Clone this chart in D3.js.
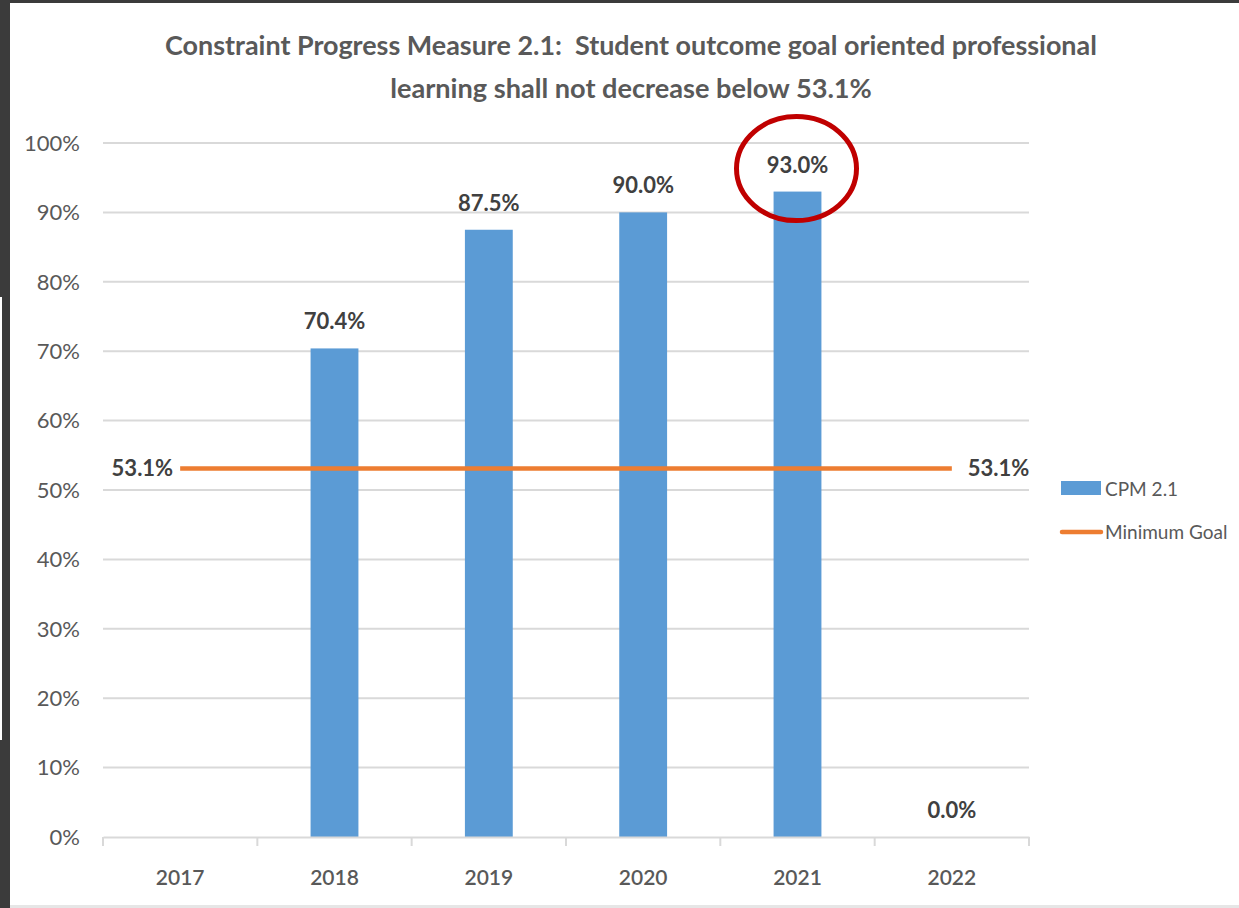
<!DOCTYPE html>
<html><head><meta charset="utf-8">
<script src="https://cdn.jsdelivr.net/npm/d3@7"></script>
<style>html,body{margin:0;padding:0;background:#fff;overflow:hidden}svg{display:block}</style>
</head><body>
<svg id="c" width="1239" height="908"></svg>
<script>
const titleLines = ["Constraint Progress Measure 2.1:  Student outcome goal oriented professional", "learning shall not decrease below 53.1%"];
const years = ["2017","2018","2019","2020","2021","2022"];
const cpmValues = [null, 0.704, 0.875, 0.900, 0.930, 0.0];
const minGoal = [0.531, 0.531, 0.531, 0.531, 0.531, 0.531];
const yTicks = [0,0.1,0.2,0.3,0.4,0.5,0.6,0.7,0.8,0.9,1.0];
const legendLabels = ["CPM 2.1", "Minimum Goal"];
const highlightYear = "2021";

const svg = d3.select("#c");
const FONT = "Lato, 'Liberation Sans', sans-serif";
// frame
svg.append("rect").attr("x",0).attr("y",0).attr("width",1239).attr("height",908).attr("fill","#fff");
svg.append("rect").attr("x",0).attr("y",0).attr("width",10).attr("height",908).attr("fill","#3b3b3b");
svg.append("rect").attr("x",0).attr("y",0).attr("width",1239).attr("height",3).attr("fill","#3b3b3b");
svg.append("rect").attr("x",0).attr("y",297).attr("width",2).attr("height",443).attr("fill","#fff");
svg.append("rect").attr("x",10).attr("y",905).attr("width",1229).attr("height",3).attr("fill","#e6e6e6");

const x = d3.scaleBand().domain(years).range([103,1029]).paddingInner(0.69).paddingOuter(0.345);
const xb = d3.scaleBand().domain(years).range([103,1029]);
const y = d3.scaleLinear().domain([0,1]).range([837,143]);

// gridlines
svg.append("g").selectAll("line").data(yTicks.slice(1)).join("line")
  .attr("x1",103).attr("x2",1029).attr("y1",d=>y(d)).attr("y2",d=>y(d))
  .attr("stroke","#d9d9d9").attr("stroke-width",2);

// y labels
svg.append("g").selectAll("text").data(yTicks).join("text")
  .attr("x",80).attr("y",d=>y(d)).attr("dy","0.35em").attr("text-anchor","end")
  .attr("font-family",FONT).attr("font-size",22).attr("fill","#595959")
  .text(d=>d3.format(".0%")(d));

// bars
const barData = years.map((yr,i)=>({yr, v:cpmValues[i]})).filter(d=>d.v!==null);
svg.append("g").selectAll("rect").data(barData).join("rect")
  .attr("x",d=>x(d.yr)).attr("width",x.bandwidth())
  .attr("y",d=>y(d.v)).attr("height",d=>y(0)-y(d.v)).attr("fill","#5B9BD5");

// x axis
const xAxisG = svg.append("g").attr("transform","translate(0,837)")
  .call(d3.axisBottom(xb).tickSize(0).tickFormat(""));
xAxisG.select(".domain").attr("stroke","#d9d9d9").attr("stroke-width",2);
xAxisG.selectAll(".tick").remove();
const bounds = years.map(d=>xb(d)).concat([xb(years[years.length-1])+xb.bandwidth()]);
svg.append("g").selectAll("line").data(bounds).join("line")
  .attr("x1",d=>d).attr("x2",d=>d).attr("y1",837).attr("y2",846)
  .attr("stroke","#d9d9d9").attr("stroke-width",2);
svg.append("g").selectAll("text").data(years).join("text")
  .attr("x",d=>xb(d)+xb.bandwidth()/2).attr("y",878).attr("dy","0.35em").attr("text-anchor","middle")
  .attr("font-family",FONT).attr("font-size",21).attr("font-weight",600).attr("fill","#595959")
  .text(d=>d);

// bar labels
svg.append("g").selectAll("text").data(barData).join("text")
  .attr("x",d=>x(d.yr)+x.bandwidth()/2).attr("y",d=>y(d.v)-19).attr("text-anchor","middle")
  .attr("font-family",FONT).attr("font-size",22).attr("font-weight",700).attr("fill","#404040")
  .text(d=>d3.format(".1%")(d.v));

// min goal line
const cx = d=>xb(d)+xb.bandwidth()/2;
const goalData = years.map((yr,i)=>({yr,v:minGoal[i]}));
svg.append("path").datum(goalData)
  .attr("d",d3.line().x(d=>cx(d.yr)).y(d=>y(d.v)))
  .attr("fill","none").attr("stroke","#ED7D31").attr("stroke-width",4.5);
const first = goalData[0], last = goalData[goalData.length-1];
svg.append("text").attr("x",cx(first.yr)-7).attr("y",y(first.v)).attr("dy","0.35em").attr("text-anchor","end")
  .attr("font-family",FONT).attr("font-size",22).attr("font-weight",700).attr("fill","#404040")
  .text(d3.format(".1%")(first.v));
svg.append("text").attr("x",cx(last.yr)+16).attr("y",y(last.v)).attr("dy","0.35em").attr("text-anchor","start")
  .attr("font-family",FONT).attr("font-size",22).attr("font-weight",700).attr("fill","#404040")
  .text(d3.format(".1%")(last.v));

// legend
svg.append("rect").attr("x",1061).attr("y",481).attr("width",40).attr("height",14).attr("fill","#5B9BD5");
svg.append("text").attr("x",1105).attr("y",489).attr("dy","0.35em")
  .attr("font-family",FONT).attr("font-size",19).attr("fill","#595959").text(legendLabels[0]);
svg.append("line").attr("x1",1062).attr("x2",1101).attr("y1",532).attr("y2",532)
  .attr("stroke","#ED7D31").attr("stroke-width",4.5).attr("stroke-linecap","round");
svg.append("text").attr("x",1105).attr("y",532).attr("dy","0.35em")
  .attr("font-family",FONT).attr("font-size",19).attr("fill","#595959").text(legendLabels[1]);

// title
const tw = [932, 482];
const ty = [46, 88];
titleLines.forEach((t,i)=>{
  const el = svg.append("text").attr("x",631).attr("y",ty[i]).attr("dy","0.35em").attr("text-anchor","middle")
    .style("white-space","pre")
    .attr("font-family",FONT).attr("font-size",26).attr("font-weight",700).attr("fill","#595959").text(t);
  const w = el.node().getComputedTextLength();
  el.attr("font-size", 26*tw[i]/w);
});

// highlight ellipse
const hv = cpmValues[years.indexOf(highlightYear)];
svg.append("ellipse").attr("cx",cx(highlightYear)-1).attr("cy",y(hv)-23).attr("rx",60).attr("ry",52)
  .attr("fill","none").attr("stroke","#C00000").attr("stroke-width",5);
</script>
</body></html>
